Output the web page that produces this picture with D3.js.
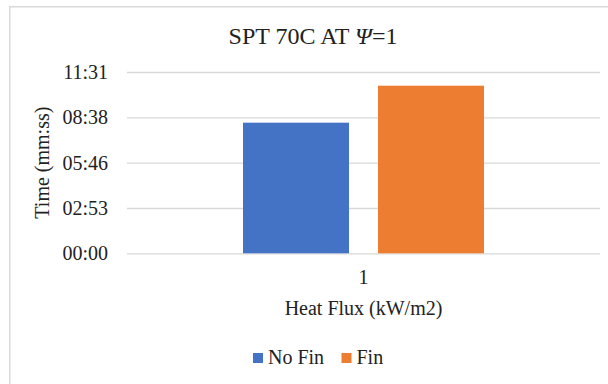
<!DOCTYPE html>
<html>
<head>
<meta charset="utf-8">
<script src="https://cdn.jsdelivr.net/npm/d3@7/dist/d3.min.js"></script>
<style>
  html, body { margin: 0; padding: 0; background: #fff; }
  svg { display: block; }
  text { font-family: "Liberation Serif", "Times New Roman", serif; fill: #222; }
</style>
</head>
<body>
<svg id="chart" width="608" height="384"></svg>
<script>
// Heat flux categories (kW/m2)
const categories = ["1"];
// Series names
const seriesNames = ["No Fin", "Fin"];
// Times in seconds for each series at each category
const noFinSeconds = [498];   // 08:18
const finSeconds = [639];     // 10:39
// Y axis ticks (seconds): Excel major unit of 0.002 day = 172.8 s
const yTickSeconds = [0, 172.8, 345.6, 518.4, 691.2];
const seriesColors = ["#4472C4", "#ED7D31"];

const seriesValues = [noFinSeconds, finSeconds];

const svg = d3.select("#chart");
const W = 608, H = 384;
const plot = { left: 127, right: 600, top: 72, bottom: 253.3 };

// chart-area border (extends beyond the frame on the right and bottom)
svg.append("rect")
  .attr("x", 9.75).attr("y", 6.75)
  .attr("width", W + 20).attr("height", H + 20)
  .attr("fill", "#fff")
  .attr("stroke", "#d9d9d9").attr("stroke-width", 1.5);

const y = d3.scaleLinear()
  .domain([0, d3.max(yTickSeconds)])
  .range([plot.bottom, plot.top]);

const groupWidth = 241;
const span = plot.right - plot.left;
const x0 = d3.scaleBand()
  .domain(categories)
  .range([plot.left, plot.right])
  .paddingInner(0)
  .paddingOuter((span / groupWidth - 1) / 2);

const x1 = d3.scaleBand()
  .domain(seriesNames)
  .range([0, x0.bandwidth()])
  .paddingInner(29 / 135)
  .paddingOuter(0);

const fmt = s => {
  const t = Math.round(s);
  const m = Math.floor(t / 60), sec = t % 60;
  return String(m).padStart(2, "0") + ":" + String(sec).padStart(2, "0");
};

// gridlines + y tick labels
const yAxis = d3.axisLeft(y)
  .tickValues(yTickSeconds)
  .tickFormat(fmt)
  .tickSize(-(plot.right - plot.left))
  .tickPadding(19);

const gy = svg.append("g")
  .attr("transform", `translate(${plot.left},0)`)
  .call(yAxis);
gy.select(".domain").remove();
gy.selectAll(".tick line").attr("stroke", "#d9d9d9").attr("stroke-width", 1.3);
gy.selectAll(".tick text")
  .attr("fill", "#222")
  .style("font-family", '"Liberation Serif", "Times New Roman", serif')
  .style("font-size", "20px");

// bars
const groups = svg.append("g").selectAll("g")
  .data(categories)
  .join("g")
  .attr("transform", d => `translate(${x0(d)},0)`);

groups.selectAll("rect")
  .data((d, i) => seriesNames.map((name, k) => ({ name, k, value: seriesValues[k][i] })))
  .join("rect")
  .attr("x", d => x1(d.name))
  .attr("width", x1.bandwidth())
  .attr("y", d => y(d.value))
  .attr("height", d => y(0) - y(d.value))
  .attr("fill", d => seriesColors[d.k]);

// x axis category labels
const xAxis = d3.axisBottom(x0).tickSize(0).tickPadding(0);
const gx = svg.append("g")
  .attr("transform", `translate(0,${plot.bottom})`)
  .call(xAxis);
gx.select(".domain").remove();
gx.selectAll(".tick text")
  .attr("y", 31).attr("dy", 0)
  .attr("fill", "#222")
  .style("font-family", '"Liberation Serif", "Times New Roman", serif')
  .style("font-size", "20px");

// title
const title = svg.append("text")
  .attr("x", 313).attr("y", 44)
  .attr("text-anchor", "middle")
  .style("font-size", "24px");
title.append("tspan").text("SPT 70C AT ");
title.append("tspan").style("font-style", "italic").text("Ψ");
title.append("tspan").text("=1");

// axis titles
svg.append("text")
  .attr("x", (plot.left + plot.right) / 2).attr("y", 315)
  .attr("text-anchor", "middle")
  .style("font-size", "20px")
  .text("Heat Flux (kW/m2)");

svg.append("text")
  .attr("transform", `translate(49,${(plot.top + plot.bottom) / 2}) rotate(-90)`)
  .attr("text-anchor", "middle")
  .style("font-size", "20px")
  .text("Time (mm:ss)");

// legend
const legendItems = [
  { name: seriesNames[0], color: seriesColors[0], x: 253 },
  { name: seriesNames[1], color: seriesColors[1], x: 341.5 }
];
const lg = svg.append("g").selectAll("g")
  .data(legendItems)
  .join("g")
  .attr("transform", d => `translate(${d.x},353)`);
lg.append("rect")
  .attr("width", 10).attr("height", 10)
  .attr("fill", d => d.color);
lg.append("text")
  .attr("x", 15).attr("y", 11)
  .style("font-size", "20px")
  .text(d => d.name);
</script>
</body>
</html>
